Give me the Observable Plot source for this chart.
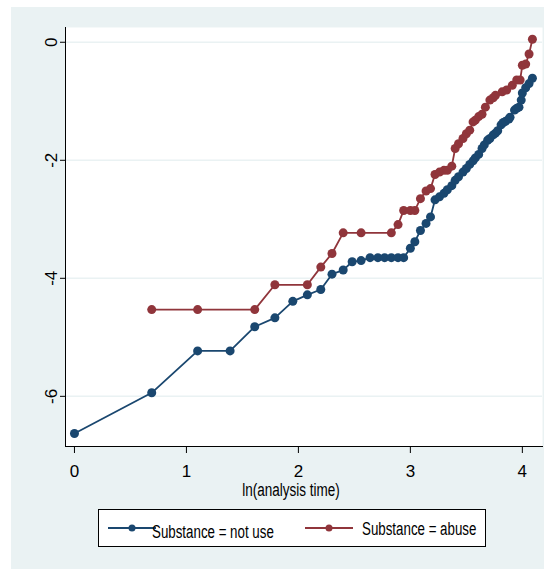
<!DOCTYPE html>
<html>
<head>
<meta charset="utf-8">
<script src="https://cdn.jsdelivr.net/npm/d3@7"></script>
<script src="https://cdn.jsdelivr.net/npm/@observablehq/plot@0.6"></script>
<style>
  html, body { margin: 0; padding: 0; background: #ffffff; }
  #wrap { position: relative; width: 544px; height: 569px; overflow: hidden;
          font-family: "Liberation Sans", Arial, sans-serif; }
  #panel { position: absolute; left: 11px; top: 7px; width: 533px; height: 562px; background: #eaf2f3; }
  #chart { position: absolute; left: 0; top: 0; }
  #xtitle { position: absolute; left: 191px; width: 200px; top: 480px; text-align: center; font-size: 18px; line-height: 20px; color: #000;
            transform: scaleX(0.75); transform-origin: 100px 0; }
  #legend { position: absolute; left: 98px; top: 509px; width: 388px; height: 38px; box-sizing: border-box;
            border: 1px solid #000; background: #fff; }
  .lg { position: absolute; font-size: 18px; color: #000; white-space: nowrap; line-height: 20px;
        transform: scaleX(0.74); transform-origin: 0 0; }
  .ic { position: absolute; }
</style>
</head>
<body>
<div id="wrap">
  <div id="panel"></div>
  <div id="chart"></div>
  <div id="xtitle"></div>
  <div id="legend"></div>
</div>
<script>
// ---- data (x = ln(analysis time), y = ln(-ln(survival))) ----
const seriesNames = ["Substance = not use", "Substance = abuse"];
const seriesColors = ["#1a476f", "#90353b"];

const notUseX = [0, 0.69, 1.10, 1.39, 1.61, 1.79, 1.95, 2.08, 2.20, 2.30, 2.40, 2.48, 2.56, 2.64, 2.71, 2.77,
  2.83, 2.89, 2.94, 3.00, 3.04, 3.09, 3.14, 3.18, 3.22, 3.26, 3.30, 3.33, 3.37, 3.40, 3.43, 3.47, 3.50,
  3.53, 3.56, 3.58, 3.61, 3.64, 3.66, 3.69, 3.71, 3.74, 3.76, 3.78, 3.81, 3.83, 3.85, 3.88, 3.89, 3.93,
  3.95, 3.97, 3.99, 4.00, 4.03, 4.06, 4.09];
const notUseY = [-6.63, -5.94, -5.23, -5.23, -4.82, -4.67, -4.39, -4.28, -4.19, -3.93, -3.86, -3.72, -3.70,
  -3.65, -3.65, -3.65, -3.65, -3.65, -3.65, -3.49, -3.38, -3.19, -3.07, -2.96, -2.67, -2.62, -2.56, -2.50,
  -2.43, -2.34, -2.28, -2.20, -2.14, -2.07, -2.01, -1.96, -1.90, -1.80, -1.74, -1.66, -1.63, -1.57, -1.54,
  -1.50, -1.40, -1.36, -1.34, -1.30, -1.27, -1.15, -1.12, -1.10, -0.98, -0.86, -0.77, -0.70, -0.61];

const abuseX = [0.69, 1.10, 1.61, 1.79, 2.08, 2.20, 2.30, 2.40, 2.56, 2.83, 2.89, 2.94, 3.00, 3.04, 3.09,
  3.14, 3.18, 3.22, 3.26, 3.30, 3.33, 3.37, 3.40, 3.43, 3.47, 3.50, 3.53, 3.56, 3.58, 3.61, 3.64, 3.67,
  3.71, 3.74, 3.76, 3.82, 3.86, 3.91, 3.95, 3.98, 4.00, 4.03, 4.06, 4.09];
const abuseY = [-4.53, -4.53, -4.53, -4.11, -4.11, -3.81, -3.58, -3.23, -3.23, -3.23, -3.09, -2.85, -2.85,
  -2.85, -2.65, -2.52, -2.48, -2.24, -2.20, -2.17, -2.17, -2.10, -1.80, -1.72, -1.63, -1.55, -1.49, -1.35,
  -1.32, -1.26, -1.22, -1.10, -0.98, -0.94, -0.90, -0.84, -0.81, -0.73, -0.64, -0.64, -0.39, -0.37, -0.20, 0.05];

const xTicks = [0, 1, 2, 3, 4];
const yTicks = [-6, -4, -2, 0];
const xTitle = "ln(analysis time)";

const notUse = notUseX.map((x, i) => ({x, y: notUseY[i]}));
const abuse = abuseX.map((x, i) => ({x, y: abuseY[i]}));

const font = '"Liberation Sans", Arial, sans-serif';

const chart = Plot.plot({
  width: 544,
  height: 500,
  marginLeft: 65,
  marginRight: 2,
  marginTop: 27,
  marginBottom: 54,
  style: {background: "transparent", fontFamily: font, fontSize: "17px", color: "#000"},
  x: {domain: [-0.08, 4.18]},
  y: {domain: [-6.85, 0.25]},
  marks: [
    Plot.frame({fill: "#ffffff", stroke: null}),
    Plot.gridY(yTicks, {stroke: "#eaf2f3", strokeOpacity: 1, strokeWidth: 1.5}),
    Plot.axisX({ticks: xTicks, tickSize: 7, tickPadding: 11, label: null, stroke: "#000", tickFormat: d3.format("d")}),
    Plot.axisY({ticks: yTicks, tickSize: 5, tickPadding: 4, tickRotate: -90, label: null, stroke: "#000",
                tickFormat: d => d3.format("d")(d).replace("−", "-")}),
    Plot.frame({anchor: "left", stroke: "#000", strokeWidth: 1}),
    Plot.frame({anchor: "bottom", stroke: "#000", strokeWidth: 1}),
    Plot.line(notUse, {x: "x", y: "y", stroke: seriesColors[0], strokeWidth: 1.8}),
    Plot.dot(notUse, {x: "x", y: "y", fill: seriesColors[0], r: 4.5, stroke: null}),
    Plot.line(abuse, {x: "x", y: "y", stroke: seriesColors[1], strokeWidth: 1.8}),
    Plot.dot(abuse, {x: "x", y: "y", fill: seriesColors[1], r: 4.5, stroke: null})
  ]
});
document.getElementById("chart").appendChild(chart);
document.getElementById("xtitle").textContent = xTitle;

// legend
const legend = document.getElementById("legend");
const items = [
  {iconLeft: 9, textLeft: 53, textTop: 12},
  {iconLeft: 206, textLeft: 263, textTop: 9}
];
seriesNames.forEach((name, i) => {
  const it = items[i];
  const ic = document.createElementNS("http://www.w3.org/2000/svg", "svg");
  ic.setAttribute("width", 48); ic.setAttribute("height", 12);
  ic.setAttribute("class", "ic");
  ic.style.left = it.iconLeft + "px"; ic.style.top = "12px";
  ic.innerHTML = `<line x1="0" x2="48" y1="6" y2="6" stroke="${seriesColors[i]}" stroke-width="1.8"/>` +
                 `<circle cx="24" cy="6" r="3.5" fill="${seriesColors[i]}"/>`;
  legend.appendChild(ic);
  const t = document.createElement("div");
  t.className = "lg";
  t.style.left = it.textLeft + "px"; t.style.top = it.textTop + "px";
  t.textContent = name;
  legend.appendChild(t);
});
</script>
</body>
</html>
